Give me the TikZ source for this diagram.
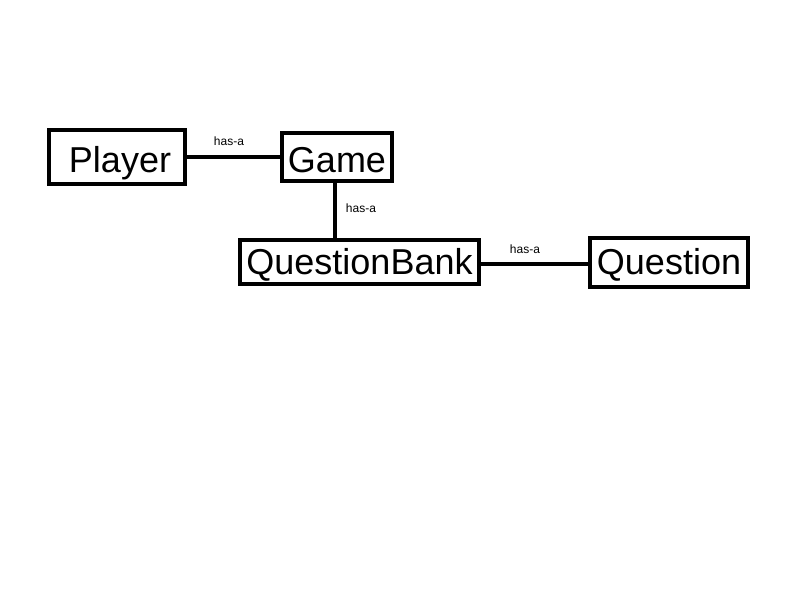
\documentclass[tikz,border=0pt]{standalone}
\usepackage{fontspec}
\setmainfont{Liberation Sans}
\usetikzlibrary{positioning}

\begin{document}
\begin{tikzpicture}[x=1pt,y=-1pt,
        entity/.style = {draw,line width=4pt,inner sep=0pt,font=\fontsize{36}{40}\selectfont},
        rel/.style = {line width=4pt},
        tag/.style = {font=\fontsize{12}{14}\selectfont}]
    \useasboundingbox (0,0) rectangle (800,600);

    \node [entity,minimum width=136pt,minimum height=54pt,text height=30pt,text depth=0pt] (player) at (117,157) {\hspace{6pt}Player};
    \node [entity,minimum width=110pt,minimum height=48pt,text height=30pt,text depth=0pt] (game) at (337,157) {Game};
    \node [entity,minimum width=239pt,minimum height=44pt,text height=28pt,text depth=4pt] (qbank) at (359.5,262) {QuestionBank};
    \node [entity,minimum width=158pt,minimum height=49pt,text height=28pt,text depth=4pt] (question) at (669,262) {Question};

    \draw [rel] (player.east) -- (game.west);
    \draw [rel] ([xshift=-2pt]game.south) -- ([xshift=-2pt]game.south |- qbank.north);
    \draw [rel] ([yshift=-2pt]qbank.east) -- ([yshift=-2pt]question.west);

    \node [tag] at (229,141) {has-a};
    \node [tag] at (361,208) {has-a};
    \node [tag] at (525,249) {has-a};
\end{tikzpicture}
\end{document}
